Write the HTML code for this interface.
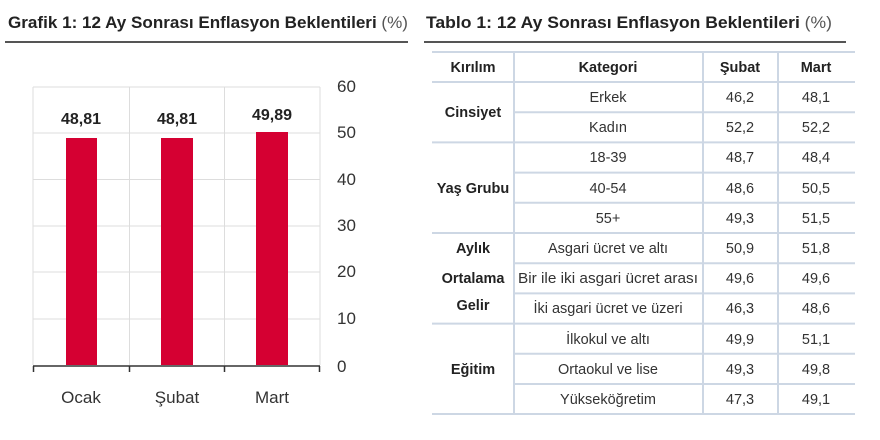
<!DOCTYPE html>
<html><head><meta charset="utf-8"><style>
html,body{margin:0;padding:0;background:#fff;}
svg{display:block;font-family:"Liberation Sans",sans-serif;}
</style></head><body>
<svg width="880" height="440" viewBox="0 0 880 440" xmlns="http://www.w3.org/2000/svg">
<text x="8" y="28" font-size="17" font-weight="bold" fill="#222" textLength="400" lengthAdjust="spacingAndGlyphs">Grafik 1: 12 Ay Sonrası Enflasyon Beklentileri <tspan font-weight="normal" fill="#555">(%)</tspan></text>
<line x1="5" y1="42" x2="408" y2="42" stroke="#555" stroke-width="2"/>
<g stroke="#ddd" stroke-width="1">
<line x1="33" y1="87" x2="320" y2="87"/>
<line x1="33" y1="133" x2="320" y2="133"/>
<line x1="33" y1="179.5" x2="320" y2="179.5"/>
<line x1="33" y1="226" x2="320" y2="226"/>
<line x1="33" y1="272" x2="320" y2="272"/>
<line x1="33" y1="319" x2="320" y2="319"/>
<line x1="33" y1="87" x2="33" y2="365"/>
<line x1="129.5" y1="87" x2="129.5" y2="365"/>
<line x1="224.5" y1="87" x2="224.5" y2="365"/>
<line x1="320" y1="87" x2="320" y2="365"/>
</g>
<g fill="#d50032">
<rect x="66" y="138" width="31" height="227"/>
<rect x="161" y="138" width="32" height="227"/>
<rect x="256" y="132" width="32" height="233"/>
</g>
<g stroke="#333" stroke-width="1.5">
<line x1="33" y1="366" x2="320" y2="366"/>
<line x1="33.5" y1="366" x2="33.5" y2="372"/>
<line x1="129.5" y1="366" x2="129.5" y2="372"/>
<line x1="224.5" y1="366" x2="224.5" y2="372"/>
<line x1="319.5" y1="366" x2="319.5" y2="372"/>
</g>
<g font-size="16" font-weight="bold" fill="#222" text-anchor="middle">
<text x="81" y="124">48,81</text>
<text x="177" y="124">48,81</text>
<text x="272" y="120">49,89</text>
</g>
<g font-size="17" fill="#333">
<text x="337" y="92">60</text>
<text x="337" y="138">50</text>
<text x="337" y="185">40</text>
<text x="337" y="231">30</text>
<text x="337" y="277">20</text>
<text x="337" y="324">10</text>
<text x="337" y="372">0</text>
</g>
<g font-size="17" fill="#333" text-anchor="middle">
<text x="81" y="403">Ocak</text>
<text x="177" y="403">Şubat</text>
<text x="272" y="403">Mart</text>
</g>

<text x="426" y="28" font-size="17" font-weight="bold" fill="#222" textLength="406" lengthAdjust="spacingAndGlyphs">Tablo 1: 12 Ay Sonrası Enflasyon Beklentileri <tspan font-weight="normal" fill="#555">(%)</tspan></text>
<line x1="424" y1="42" x2="846" y2="42" stroke="#555" stroke-width="2"/>

<g stroke="#cdd7e4" stroke-width="2">
<line x1="432" y1="52" x2="855" y2="52"/>
<line x1="432" y1="82" x2="855" y2="82"/>
<line x1="514" y1="112.2" x2="855" y2="112.2"/>
<line x1="432" y1="142.4" x2="855" y2="142.4"/>
<line x1="514" y1="172.6" x2="855" y2="172.6"/>
<line x1="514" y1="202.8" x2="855" y2="202.8"/>
<line x1="432" y1="233" x2="855" y2="233"/>
<line x1="514" y1="263.2" x2="855" y2="263.2"/>
<line x1="514" y1="293.4" x2="855" y2="293.4"/>
<line x1="432" y1="323.6" x2="855" y2="323.6"/>
<line x1="514" y1="353.8" x2="855" y2="353.8"/>
<line x1="514" y1="384" x2="855" y2="384"/>
<line x1="432" y1="414" x2="855" y2="414"/>
<line x1="514" y1="52" x2="514" y2="414"/>
<line x1="703" y1="52" x2="703" y2="414"/>
<line x1="778" y1="52" x2="778" y2="414"/>
</g>
<g font-size="14.5" font-weight="bold" fill="#222" text-anchor="middle">
<text x="473" y="72">Kırılım</text>
<text x="608" y="72">Kategori</text>
<text x="740" y="72">Şubat</text>
<text x="816" y="72">Mart</text>
<text x="473" y="117">Cinsiyet</text>
<text x="473" y="193">Yaş Grubu</text>
<text x="473" y="253">Aylık</text>
<text x="473" y="283">Ortalama</text>
<text x="473" y="310">Gelir</text>
<text x="473" y="374">Eğitim</text>
</g>
<g font-size="14.5" fill="#333" text-anchor="middle">
<text x="608" y="102">Erkek</text><text x="740" y="102">46,2</text><text x="816" y="102">48,1</text>
<text x="608" y="132">Kadın</text><text x="740" y="132">52,2</text><text x="816" y="132">52,2</text>
<text x="608" y="162">18-39</text><text x="740" y="162">48,7</text><text x="816" y="162">48,4</text>
<text x="608" y="193">40-54</text><text x="740" y="193">48,6</text><text x="816" y="193">50,5</text>
<text x="608" y="223">55+</text><text x="740" y="223">49,3</text><text x="816" y="223">51,5</text>
<text x="608" y="253">Asgari ücret ve altı</text><text x="740" y="253">50,9</text><text x="816" y="253">51,8</text>
<text x="608" y="283" textLength="180" lengthAdjust="spacingAndGlyphs">Bir ile iki asgari ücret arası</text><text x="740" y="283">49,6</text><text x="816" y="283">49,6</text>
<text x="608" y="313">İki asgari ücret ve üzeri</text><text x="740" y="313">46,3</text><text x="816" y="313">48,6</text>
<text x="608" y="344">İlkokul ve altı</text><text x="740" y="344">49,9</text><text x="816" y="344">51,1</text>
<text x="608" y="374">Ortaokul ve lise</text><text x="740" y="374">49,3</text><text x="816" y="374">49,8</text>
<text x="608" y="404">Yükseköğretim</text><text x="740" y="404">47,3</text><text x="816" y="404">49,1</text>
</g>
</svg>
</body></html>
